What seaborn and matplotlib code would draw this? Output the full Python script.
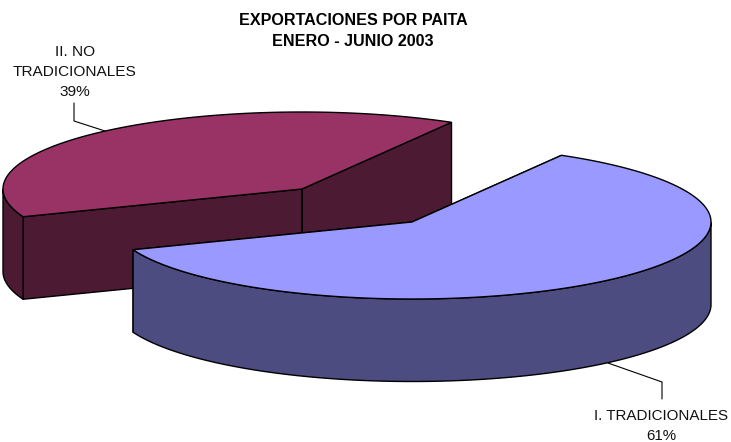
import numpy as np
import pandas as pd
import matplotlib
matplotlib.use("Agg")
import matplotlib.pyplot as plt
import seaborn as sns

title_lines = ["EXPORTACIONES POR PAITA", "ENERO - JUNIO 2003"]
categories = ["I. TRADICIONALES", "II. NO\nTRADICIONALES"]
shares = [60.8, 39.2]
top_colors = ["#9999FF", "#993366"]
side_colors = ["#4C4C80", "#4C1A33"]

sns.set_style("white")
plt.rcParams["font.family"] = ["Liberation Sans", "DejaVu Sans"]

START = 60.0  # where the big slice begins, degrees
RX, RY, DEPTH = 299, 77, 82.5


def arc(cx, cy, a0, a1, n=200):
    t = np.radians(np.linspace(a0, a1, n))
    return cx + RX * np.cos(t), cy - RY * np.sin(t)


def draw_slice(ax, cx, cy, a0, a1, top, side, z):
    """a0 -> a1 going counterclockwise, a1 > a0"""
    # cut faces first
    for a in (a0, a1):
        ex, ey = arc(cx, cy, a, a, 1)
        ax.fill([cx, ex[0], ex[0], cx], [cy, ey[0], ey[0] + DEPTH, cy + DEPTH],
                fc=side, ec="black", lw=1, zorder=z)
    # outer wall, only the front half shows
    lo, hi = max(a0, 180), min(a1, 360)
    if lo < hi:
        wx, wy = arc(cx, cy, lo, hi)
        ax.fill(np.r_[wx, wx[::-1]], np.r_[wy, wy[::-1] + DEPTH],
                fc=side, ec="black", lw=1, zorder=z + 1)
    x, y = arc(cx, cy, a0, a1)
    ax.fill(np.r_[cx, x], np.r_[cy, y], fc=top, ec="black", lw=1, zorder=z + 2)


df = pd.DataFrame({"categoria": categories, "share": shares})
df["sweep"] = df["share"] / df["share"].sum() * 360

fig, ax = plt.subplots(figsize=(7.31, 4.42), dpi=100)
fig.subplots_adjust(0, 0, 1, 1)
ax.set_xlim(0, 731)
ax.set_ylim(442, 0)
ax.axis("off")

# dark slice sits behind, big one is pulled out in front of it
big_end = START - df["sweep"][0] + 360
draw_slice(ax, 302, 189, START, big_end, top_colors[1], side_colors[1], 1)
draw_slice(ax, 412, 222, big_end, START + 360, top_colors[0], side_colors[0], 5)

ax.text(353, 31, title_lines[0] + "\n" + title_lines[1], ha="center", va="center",
        fontsize=11.6, fontweight="bold", linespacing=1.5, color="black")
ax.text(75, 72, "{}\n{:.0f}%".format(categories[1], shares[1]), ha="center", va="center",
        fontsize=11.1, linespacing=1.53, color="#111111")
ax.text(661, 426, "{}\n{:.0f}%".format(categories[0], shares[0]), ha="center", va="center",
        fontsize=10.9, linespacing=1.5, color="#111111")

# leader lines
ax.plot([74, 74, 105], [103, 121, 131], color="black", lw=0.8, zorder=10)
ax.plot([608, 662, 662], [363, 382, 399], color="black", lw=0.8, zorder=10)

fig.savefig("out.png", dpi=100)
